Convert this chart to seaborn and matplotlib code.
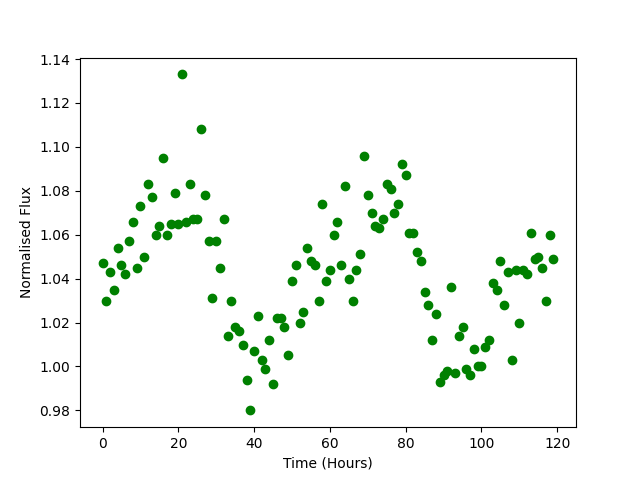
import numpy as np
import pandas as pd
import matplotlib
matplotlib.use("Agg")
import matplotlib.pyplot as plt
import seaborn as sns

# Time in hours, one reading per hour
time_hours = list(range(120))

# Normalised flux
flux = [
    1.047, 1.030, 1.043, 1.035, 1.054, 1.046, 1.042, 1.057, 1.066, 1.045,
    1.073, 1.050, 1.083, 1.077, 1.060, 1.064, 1.095, 1.060, 1.065, 1.079,
    1.065, 1.133, 1.066, 1.083, 1.067, 1.067, 1.108, 1.078, 1.057, 1.031,
    1.057, 1.045, 1.067, 1.014, 1.030, 1.018, 1.016, 1.010, 0.994, 0.980,
    1.007, 1.023, 1.003, 0.999, 1.012, 0.992, 1.022, 1.022, 1.018, 1.005,
    1.039, 1.046, 1.020, 1.025, 1.054, 1.048, 1.046, 1.030, 1.074, 1.039,
    1.044, 1.060, 1.066, 1.046, 1.082, 1.040, 1.030, 1.044, 1.051, 1.096,
    1.078, 1.070, 1.064, 1.063, 1.067, 1.083, 1.081, 1.070, 1.074, 1.092,
    1.087, 1.061, 1.061, 1.052, 1.048, 1.034, 1.028, 1.012, 1.024, 0.993,
    0.996, 0.998, 1.036, 0.997, 1.014, 1.018, 0.999, 0.996, 1.008, 1.000,
    1.000, 1.009, 1.012, 1.038, 1.035, 1.048, 1.028, 1.043, 1.003, 1.044,
    1.020, 1.044, 1.042, 1.061, 1.049, 1.050, 1.045, 1.030, 1.060, 1.049,
]

df = pd.DataFrame({"time": time_hours, "flux": flux})

fig, ax = plt.subplots(figsize=(6.4, 4.8), dpi=100)

# same look as plt.plot(x, y, 'go')
sns.scatterplot(
    x="time",
    y="flux",
    data=df,
    color="green",
    edgecolor="green",
    s=36,
    linewidth=1,
    ax=ax
)

ax.set_xlabel("Time (Hours)")
ax.set_ylabel("Normalised Flux")

fig.savefig("out.png")
